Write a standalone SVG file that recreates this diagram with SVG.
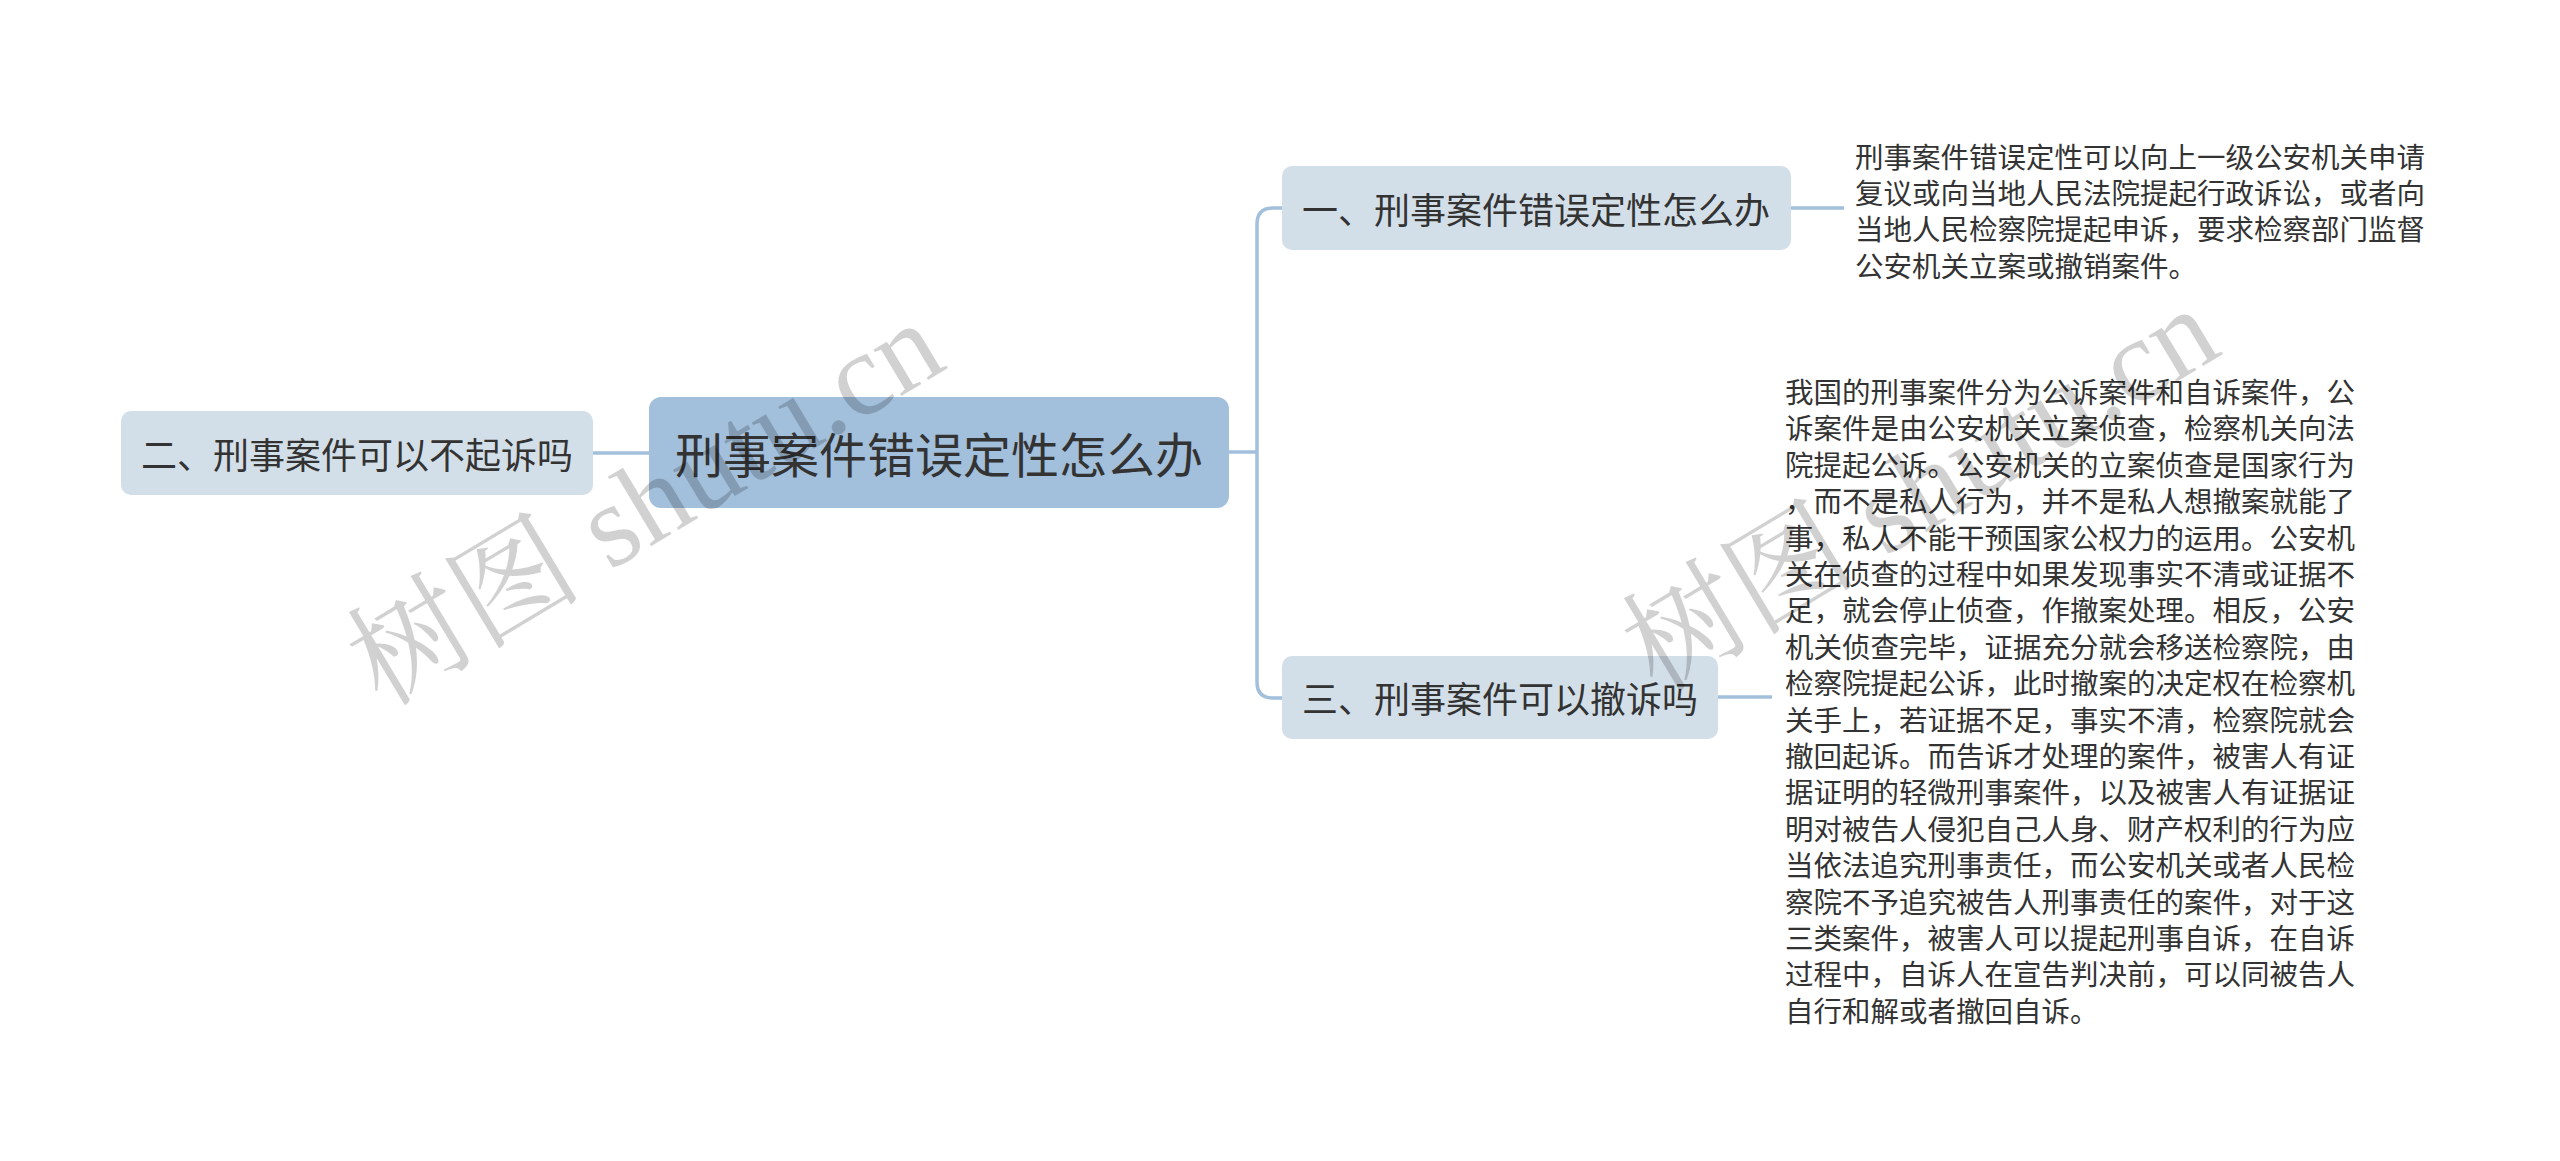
<svg xmlns="http://www.w3.org/2000/svg" width="2560" height="1161" viewBox="0 0 2560 1161">
<style>
.node{fill:#d3dfe8}
.root{fill:#a2bfdb}
.lbl{font-family:"Noto Sans CJK SC","Noto Sans",sans-serif;font-size:36px;fill:#333;text-anchor:middle;dominant-baseline:central}
.rlbl{font-family:"Noto Sans CJK SC","Noto Sans",sans-serif;font-size:48px;fill:#333;text-anchor:middle;dominant-baseline:central}
.desc{font-family:"Noto Sans CJK SC","Noto Sans",sans-serif;font-size:28.5px;fill:#333;dominant-baseline:central}
.conn{fill:none;stroke:#a2bfdb;stroke-width:3.5}
.wm{font-family:"Liberation Serif","Noto Serif CJK SC","Noto Sans CJK SC",serif;font-size:118px;fill:#000;fill-opacity:0.18}
</style>
<rect width="2560" height="1161" fill="#ffffff"/>
<g id="connectors">
<path class="conn" d="M593 453 H649"/>
<path class="conn" d="M1229 452 H1257"/>
<path class="conn" d="M1282 208 H1273 Q1257 208 1257 224 V682 Q1257 698 1273 698 H1282"/>
<path class="conn" d="M1791 208 H1844"/>
<path class="conn" d="M1718 697 H1772"/>
</g>
<g id="root">
<rect class="root" x="649" y="397" width="580" height="111" rx="12"/>
<text class="rlbl" x="939" y="452">刑事案件错误定性怎么办</text>
</g>
<g id="node-left">
<rect class="node" x="121" y="411" width="472" height="84" rx="10"/>
<text class="lbl" x="357" y="453">二、刑事案件可以不起诉吗</text>
</g>
<g id="node-1">
<rect class="node" x="1282" y="166" width="509" height="84" rx="10"/>
<text class="lbl" x="1536" y="208">一、刑事案件错误定性怎么办</text>
</g>
<g id="node-1-desc">
<text class="desc" x="1855">
<tspan x="1855" y="154.5">刑事案件错误定性可以向上一级公安机关申请</tspan>
<tspan x="1855" y="190.9">复议或向当地人民法院提起行政诉讼，或者向</tspan>
<tspan x="1855" y="227.3">当地人民检察院提起申诉，要求检察部门监督</tspan>
<tspan x="1855" y="263.7">公安机关立案或撤销案件。</tspan>
</text>
</g>
<g id="node-3">
<rect class="node" x="1282" y="656" width="436" height="83" rx="10"/>
<text class="lbl" x="1500" y="697">三、刑事案件可以撤诉吗</text>
</g>
<g id="node-3-desc">
<text class="desc">
<tspan x="1785" y="390">我国的刑事案件分为公诉案件和自诉案件，公</tspan>
<tspan x="1785" y="426.4">诉案件是由公安机关立案侦查，检察机关向法</tspan>
<tspan x="1785" y="462.8">院提起公诉。公安机关的立案侦查是国家行为</tspan>
<tspan x="1785" y="499.2">，而不是私人行为，并不是私人想撤案就能了</tspan>
<tspan x="1785" y="535.6">事，私人不能干预国家公权力的运用。公安机</tspan>
<tspan x="1785" y="572">关在侦查的过程中如果发现事实不清或证据不</tspan>
<tspan x="1785" y="608.4">足，就会停止侦查，作撤案处理。相反，公安</tspan>
<tspan x="1785" y="644.8">机关侦查完毕，证据充分就会移送检察院，由</tspan>
<tspan x="1785" y="681.2">检察院提起公诉，此时撤案的决定权在检察机</tspan>
<tspan x="1785" y="717.6">关手上，若证据不足，事实不清，检察院就会</tspan>
<tspan x="1785" y="754">撤回起诉。而告诉才处理的案件，被害人有证</tspan>
<tspan x="1785" y="790.4">据证明的轻微刑事案件，以及被害人有证据证</tspan>
<tspan x="1785" y="826.8">明对被告人侵犯自己人身、财产权利的行为应</tspan>
<tspan x="1785" y="863.2">当依法追究刑事责任，而公安机关或者人民检</tspan>
<tspan x="1785" y="899.6">察院不予追究被告人刑事责任的案件，对于这</tspan>
<tspan x="1785" y="936">三类案件，被害人可以提起刑事自诉，在自诉</tspan>
<tspan x="1785" y="972.4">过程中，自诉人在宣告判决前，可以同被告人</tspan>
<tspan x="1785" y="1008.8">自行和解或者撤回自诉。</tspan>
</text>
</g>
<g id="watermarks">
<text class="wm" transform="translate(382 708) rotate(-31)">树图 shutu.cn</text>
<text class="wm" transform="translate(1657 694) rotate(-31)">树图 shutu.cn</text>
</g>
</svg>
